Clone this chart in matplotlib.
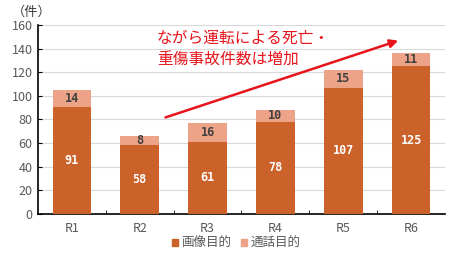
import matplotlib
matplotlib.use("Agg")
import matplotlib.pyplot as plt
from matplotlib.patches import Patch

plt.rcParams['font.family'] = ['Noto Sans CJK JP', 'DejaVu Sans']

categories = ["R1", "R2", "R3", "R4", "R5", "R6"]
image_vals = [91, 58, 61, 78, 107, 125]
call_vals = [14, 8, 16, 10, 15, 11]
series_names = ["画像目的", "通話目的"]
yticks = [0, 20, 40, 60, 80, 100, 120, 140, 160]

c_dark = "#CB6229"
c_light = "#EDA388"

fig = plt.figure(figsize=(4.5, 2.56), dpi=100)
ax = fig.add_axes([38/450, (256-214)/256, (445-38)/450, (214-25)/256])

x = list(range(len(categories)))
w = 0.57
ax.bar(x, image_vals, w, color=c_dark, zorder=3)
ax.bar(x, call_vals, w, bottom=image_vals, color=c_light, zorder=3)

mono = ['DejaVu Sans Mono']
for xi, a, b in zip(x, image_vals, call_vals):
    ax.text(xi, a/2, str(a), ha='center', va='center', color='white',
            fontsize=8.5, fontweight='bold', family=mono, zorder=4)
    ax.text(xi, a + b/2, str(b), ha='center', va='center', color='#404040',
            fontsize=8.5, fontweight='bold', family=mono, zorder=4)

ax.set_xlim(-0.5, len(categories) - 0.5)
ax.set_ylim(0, 160)
ax.set_yticks(yticks)
ax.set_yticklabels([str(v) for v in yticks], color='#595959', fontsize=9)
ax.set_xticks(x)
ax.set_xticklabels(categories, color='#595959', fontsize=9)
ax.tick_params(axis='x', length=0, pad=6)
ax.set_xticks([i + 0.5 for i in x[:-1]], minor=True)
ax.tick_params(axis='x', which='minor', direction='in', length=3, color='black')
ax.tick_params(axis='y', direction='in', length=3, color='black', pad=4)
ax.grid(axis='y', color='#D9D9D9', linewidth=0.8, zorder=0)
for s in ['top', 'right']:
    ax.spines[s].set_visible(False)
ax.spines['left'].set_color('black')
ax.spines['bottom'].set_color('black')
ax.spines['left'].set_linewidth(1.2)
ax.spines['bottom'].set_linewidth(1.2)

ax.annotate("", xy=(4.85, 147.5), xytext=(1.34, 81),
            arrowprops=dict(arrowstyle='-|>', color='#E8141B', lw=1.8,
                            mutation_scale=12), zorder=5)
ax.text(1.25, 156, "ながら運転による死亡・\n重傷事故件数は増加", color='#E8141B',
        fontsize=11.3, va='top', ha='left', linespacing=1.3, zorder=5)

fig.text(12/450, 1 - 12/256, "（件）", color='#404040', fontsize=9.5, va='center', ha='left')

handles = [Patch(color=c_dark), Patch(color=c_light)]
fig.legend(handles, series_names, loc='center', bbox_to_anchor=(236/450, 1 - 243/256),
           ncol=2, frameon=False, fontsize=9, handlelength=0.5, handleheight=0.5,
           handletextpad=0.25, columnspacing=0.8, labelcolor='#595959')

fig.savefig("out.png", dpi=100)
